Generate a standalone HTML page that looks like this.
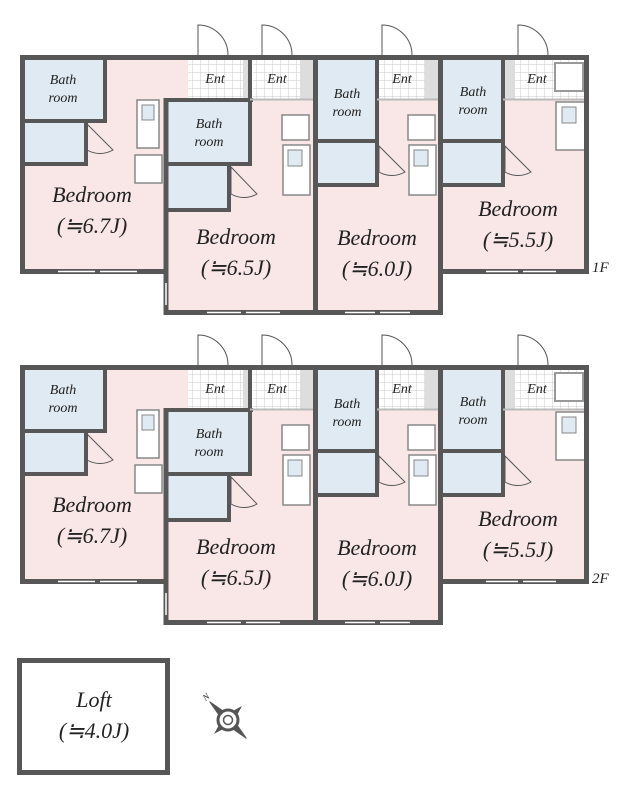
<!DOCTYPE html>
<html><head><meta charset="utf-8"><style>
html,body{margin:0;padding:0;background:#fff}
svg{display:block}
text{font-family:"Liberation Serif",serif;font-style:italic;fill:#222}
.b{font-size:22px}
.s{font-size:14px}
</style></head><body>
<svg width="642" height="800" viewBox="0 0 642 800" xmlns="http://www.w3.org/2000/svg">
<defs>
<pattern id="tile" width="8" height="8" patternUnits="userSpaceOnUse"><rect width="8" height="8" fill="#fff"/><path d="M0 0H8M0 0V8" stroke="#c8c8c8" stroke-width="1"/></pattern>
<g id="floor">
 <rect x="22" y="57" width="166" height="215" fill="#f9e7e7"/>
 <rect x="166" y="100" width="150" height="213" fill="#f9e7e7"/>
 <rect x="315" y="57" width="126" height="256" fill="#f9e7e7"/>
 <rect x="440" y="57" width="147" height="215" fill="#f9e7e7"/>
 <rect x="188" y="58" width="55" height="41" fill="url(#tile)"/><rect x="243" y="58" width="8" height="41" fill="#ddd"/>
 <rect x="253" y="58" width="47" height="41" fill="url(#tile)"/><rect x="300" y="58" width="13" height="41" fill="#ddd"/>
 <rect x="378" y="58" width="47" height="41" fill="url(#tile)"/><rect x="425" y="58" width="13" height="41" fill="#ddd"/>
 <rect x="505" y="58" width="80" height="41" fill="url(#tile)"/><rect x="505" y="58" width="10" height="41" fill="#ddd"/>
 <rect x="555" y="63" width="28" height="28" fill="#fff" stroke="#999" stroke-width="2"/>
 <rect x="22" y="58" width="83" height="62" fill="#dfeaf2"/><rect x="22" y="123" width="63" height="42" fill="#dfeaf2"/>
 <rect x="168" y="102" width="82" height="61" fill="#dfeaf2"/><rect x="168" y="166" width="60" height="44" fill="#dfeaf2"/>
 <rect x="317" y="58" width="60" height="82" fill="#dfeaf2"/><rect x="317" y="143" width="60" height="41" fill="#dfeaf2"/>
 <rect x="443" y="58" width="60" height="82" fill="#dfeaf2"/><rect x="443" y="143" width="60" height="41" fill="#dfeaf2"/>
 <g stroke="#575757" stroke-width="4" fill="none">
  <path d="M105 57V120M22 121H107M22 164H87M86 121V166"/>
  <path d="M250 99V165M166 164H252M166 210H230M229 164V212"/>
  <path d="M377 57V186M315 141H379M315 185H379"/>
  <path d="M503 57V186M440 141H505M440 185H505"/>
  <path d="M166 100H253M250 57V100"/>
 </g>
 <g stroke="#bbb" stroke-width="2" fill="none"><path d="M377 99.5H440M503 99.5H587M250 99.5H315"/></g>
 <g stroke="#555" stroke-width="1" fill="#fff">
  <path d="M87 124V150A26 26 0 0 0 113 150Z" fill="none"/>
  <path d="M231 167V194A26 26 0 0 0 257 194Z" fill="none"/>
  <path d="M379 146V172A26 26 0 0 0 405 172Z" fill="none"/>
  <path d="M505 146V172A26 26 0 0 0 531 172Z" fill="none"/>
  <path d="M198 55V25A30 30 0 0 1 228 55"/>
  <path d="M262 55V25A30 30 0 0 1 292 55"/>
  <path d="M382 55V25A30 30 0 0 1 412 55"/>
  <path d="M518 55V25A30 30 0 0 1 548 55"/>
 </g>
 <g fill="#fff" stroke="#888" stroke-width="1.5">
  <rect x="137" y="100" width="22" height="48"/><rect x="135" y="155" width="27" height="28"/>
  <rect x="282" y="115" width="27" height="25"/><rect x="283" y="145" width="27" height="50"/>
  <rect x="408" y="115" width="27" height="25"/><rect x="409" y="145" width="27" height="50"/>
  <rect x="556" y="102" width="29" height="48"/>
 </g>
 <g fill="#dfeaf2" stroke="#888" stroke-width="1">
  <rect x="142" y="105" width="12" height="15"/><rect x="288" y="150" width="14" height="16"/><rect x="414" y="150" width="14" height="16"/><rect x="562" y="107" width="14" height="16"/>
 </g>
 <g stroke="#575757" stroke-width="5" fill="none">
  <path d="M20 57.5H588M22.5 55V274M20 271.5H168M166 98V315M164 312.5H318M315.5 55V315M313 312.5H443M440.5 55V315M438 271.5H589M586.5 55V274"/>
 </g>
 <g stroke="#fff" stroke-width="1.5">
  <path d="M58 271.5H95M100 271.5H137M207 312.5H241M246 312.5H280M345 312.5H375M380 312.5H410M486 271.5H518M523 271.5H556M166 283V305"/>
 </g>
 <text class="s" x="63" y="84" text-anchor="middle">Bath</text><text class="s" x="63" y="102" text-anchor="middle">room</text>
 <text class="s" x="209" y="128" text-anchor="middle">Bath</text><text class="s" x="209" y="146" text-anchor="middle">room</text>
 <text class="s" x="347" y="98" text-anchor="middle">Bath</text><text class="s" x="347" y="116" text-anchor="middle">room</text>
 <text class="s" x="473" y="96" text-anchor="middle">Bath</text><text class="s" x="473" y="114" text-anchor="middle">room</text>
 <text class="s" x="215" y="83" text-anchor="middle">Ent</text><text class="s" x="277" y="83" text-anchor="middle">Ent</text>
 <text class="s" x="402" y="83" text-anchor="middle">Ent</text><text class="s" x="537" y="83" text-anchor="middle">Ent</text>
 <text class="b" x="92" y="202" text-anchor="middle">Bedroom</text><text class="b" x="92" y="233" text-anchor="middle">(≒6.7J)</text>
 <text class="b" x="236" y="244" text-anchor="middle">Bedroom</text><text class="b" x="236" y="275" text-anchor="middle">(≒6.5J)</text>
 <text class="b" x="377" y="245" text-anchor="middle">Bedroom</text><text class="b" x="377" y="276" text-anchor="middle">(≒6.0J)</text>
 <text class="b" x="518" y="216" text-anchor="middle">Bedroom</text><text class="b" x="518" y="247" text-anchor="middle">(≒5.5J)</text>
</g>
</defs>
<use href="#floor"/>
<text x="592" y="272" font-size="15">1F</text>
<use href="#floor" transform="translate(0,310)"/>
<text x="592" y="583" font-size="15">2F</text>
<rect x="19.5" y="660.5" width="148" height="112" fill="#fff" stroke="#575757" stroke-width="5"/>
<text class="b" x="94" y="707" text-anchor="middle">Loft</text>
<text class="b" x="94" y="738" text-anchor="middle">(≒4.0J)</text>
<g transform="translate(228,720) rotate(-45)" stroke="#555" fill="#555">
 <path d="M0 -26L3 -9H-3Z M0 26L3 9H-3Z M-18 0L-8 3V-3Z M18 0L8 3V-3Z"/>
 <circle r="10" fill="#fff" stroke-width="3"/><circle r="4.5" fill="#fff" stroke-width="1.5"/>
</g>
<text x="203" y="700" font-size="9" font-style="normal" transform="rotate(-40 206 697)">N</text>
</svg>
</body></html>
